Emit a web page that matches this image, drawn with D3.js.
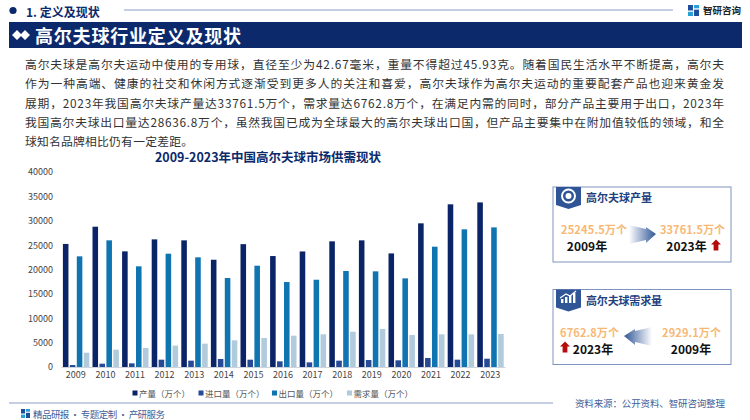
<!DOCTYPE html>
<html><head><meta charset="utf-8">
<script src="https://cdn.jsdelivr.net/npm/d3@7"></script>
<style>html,body{margin:0;padding:0;background:#fff}svg{display:block}text{font-family:"Noto Sans CJK SC","Noto Sans",sans-serif}</style>
</head><body><svg id="c" width="750" height="420"></svg>
<script>
const years=["2009","2010","2011","2012","2013","2014","2015","2016","2017","2018","2019","2020","2021","2022","2023"];
const production=[25245.5,28780,23720,26180,25980,22000,25200,22760,23700,25780,25980,23300,29470,33370,33761.5];
const imports=[400,680,750,1500,1300,1640,1500,1160,950,1300,1430,1370,1850,1500,1700];
const exportsQ=[22700,25980,20650,23240,22500,18250,20780,17430,17900,19690,19620,18180,24680,28240,28636.8];
const demand=[2929.1,3550,3900,4380,4790,5470,5950,6430,6700,7240,7800,6570,6700,6700,6762.8];
const seriesNames=["产量（万个）","进口量（万个）","出口量（万个）","需求量（万个）"];
const seriesColors=["#0b2468","#264a96","#0f74b0","#b1cadc"];
const yTicks=[0,5000,10000,15000,20000,25000,30000,35000,40000];
const bodyLines=[
"高尔夫球是高尔夫运动中使用的专用球，直径至少为42.67毫米，重量不得超过45.93克。随着国民生活水平不断提高，高尔夫",
"作为一种高端、健康的社交和休闲方式逐渐受到更多人的关注和喜爱，高尔夫球作为高尔夫运动的重要配套产品也迎来黄金发",
"展期，2023年我国高尔夫球产量达33761.5万个，需求量达6762.8万个，在满足内需的同时，部分产品主要用于出口，2023年",
"我国高尔夫球出口量达28636.8万个，虽然我国已成为全球最大的高尔夫球出口国，但产品主要集中在附加值较低的领域，和全",
"球知名品牌相比仍有一定差距。"];
const navy="#0c2a6b";
const svg=d3.select("#c");
const defs=svg.append("defs");
const g1=defs.append("linearGradient").attr("id","gr").attr("x1",0).attr("x2",1).attr("y1",0).attr("y2",0);
g1.append("stop").attr("offset",0).attr("stop-color","#fff");
g1.append("stop").attr("offset",1).attr("stop-color","#2f5597");
const g2=defs.append("linearGradient").attr("id","gl").attr("x1",1).attr("x2",0).attr("y1",0).attr("y2",0);
g2.append("stop").attr("offset",0).attr("stop-color","#fff");
g2.append("stop").attr("offset",1).attr("stop-color","#2f5597");

function txt(x,y,s,o={}){const t=svg.append("text").attr("x",x).attr("y",y).text(s)
 .attr("font-size",o.size||11).attr("fill",o.fill||"#333").attr("font-weight",o.weight||400)
 .attr("text-anchor",o.anchor||"start").attr("dominant-baseline","central");
 if(o.len)t.attr("textLength",o.len).attr("lengthAdjust","spacing");return t;}

// header
svg.append("circle").attr("cx",13).attr("cy",10.5).attr("r",3.6).attr("fill",navy);
txt(26,11,"1. 定义及现状",{size:12,weight:700,fill:navy});
svg.append("line").attr("x1",124).attr("x2",673).attr("y1",10).attr("y2",10).attr("stroke","#8a9cc6").attr("stroke-width",1);
function logo(x,y,s){
 svg.append("path").attr("d",`M${x} ${y}h${s*.45}v${s*.5}h${-s*.45}z`).attr("fill","#1c4e9c");
 svg.append("path").attr("d",`M${x+s*.55} ${y}h${s*.45}v${s*.3}h${-s*.45}z`).attr("fill","#27a0d8");
 svg.append("path").attr("d",`M${x} ${y+s*.62}h${s*.45}v${s*.38}h${-s*.45}z`).attr("fill","#27a0d8");
 svg.append("path").attr("d",`M${x+s*.55} ${y+s*.42}h${s*.45}v${s*.58}h${-s*.45}z`).attr("fill","#1c4e9c");
}
logo(688,5,11);
txt(703,10,"智研咨询",{size:9.5,weight:700,fill:"#222",len:38});
svg.append("rect").attr("x",9).attr("y",22).attr("width",733).attr("height",26).attr("fill",navy);
svg.append("path").attr("d","M12 35l5-5 5 5-5 5zM20 35l5-5 5 5-5 5z").attr("fill","#fff");
txt(35,35,"高尔夫球行业定义及现状",{size:18,weight:700,fill:"#fff",len:206});

// body
const bodyY=[63.5,82.5,102,121,140.5];
const bodyLen=[699,699,699,699,168];
bodyLines.forEach((s,i)=>txt(25,bodyY[i],s,{size:11.8,fill:"#333",len:bodyLen[i]}));

// chart
txt(268,156,"2009-2023年中国高尔夫球市场供需现状",{size:12.5,weight:700,fill:navy,anchor:"middle"});
const x0=d3.scaleBand().domain(years).range([61,505]);
const x1=d3.scaleBand().domain(seriesNames).range([1.9,28.3]).paddingInner(0.2);
const y=d3.scaleLinear().domain([0,40000]).range([367,172]);
const seriesData=[production,imports,exportsQ,demand];
seriesData.forEach((vals,k)=>{
 svg.append("g").selectAll("rect").data(vals).join("rect")
  .attr("x",(d,i)=>x0(years[i])+x1(seriesNames[k]))
  .attr("y",d=>y(d)).attr("width",x1.bandwidth()).attr("height",d=>y(0)-y(d)).attr("fill",seriesColors[k]);
});
const ax=svg.append("g").attr("transform","translate(0,367)").call(d3.axisBottom(x0).tickSize(0).tickPadding(5));
ax.select(".domain").attr("stroke","#ccd3dc");
ax.selectAll("text").attr("font-size",9).attr("fill","#444").attr("font-family","'Noto Sans','Liberation Sans',sans-serif");
const ay=svg.append("g").attr("transform","translate(53,0)").call(d3.axisLeft(y).tickValues(yTicks).tickFormat(d3.format("d")).tickSize(0).tickPadding(0));
ay.select(".domain").remove();
ay.selectAll("text").attr("font-size",9).attr("fill","#444").attr("font-family","'Noto Sans','Liberation Sans',sans-serif");

// legend
const lx=[132.5,198.5,272,347];
seriesNames.forEach((n,i)=>{
 svg.append("rect").attr("x",lx[i]).attr("y",390.5).attr("width",5).attr("height",5).attr("fill",seriesColors[i]);
 txt(lx[i]+6.5,393,n,{size:8.5,fill:"#555"});
});

// panels
function badge(x,y){svg.append("path").attr("d",`M${x} ${y}h25v18l-12.5 4l-12.5 -4z`).attr("fill","#2f5597");}
function panel(py,title,tw){
 svg.append("rect").attr("x",553).attr("y",py).attr("width",178).attr("height",75).attr("fill","#fff").attr("stroke","#7f93bf").attr("stroke-width",1);
 badge(556,py);
 txt(586,py+10,title,{size:11,weight:700,fill:"#1f3f7f",len:tw});
}
function upArrow(cx,cy){svg.append("path").attr("d",`M${cx} ${cy-6}l5 5h-2.6v6h-4.8v-6h-2.6z`).attr("fill","#b50d0d");}
const orange="#f8b874";
panel(187,"高尔夫球产量",66);
svg.append("circle").attr("cx",568.5).attr("cy",196).attr("r",6.5).attr("fill","none").attr("stroke","#fff").attr("stroke-width",2);
svg.append("circle").attr("cx",568.5).attr("cy",196).attr("r",3).attr("fill","#fff");
txt(561,229,"25245.5万个",{size:11,weight:700,fill:orange,len:66});
txt(587,245.5,"2009年",{size:12,weight:700,fill:"#111",anchor:"middle"});
txt(660,229,"33761.5万个",{size:11,weight:700,fill:orange,len:65});
txt(686.5,245.5,"2023年",{size:12,weight:700,fill:"#111",anchor:"middle"});
upArrow(716,245.5);
svg.append("path").attr("d","M629 225L646 229V227L656 234L646 243V240L629 244Z").attr("fill","url(#gr)");

panel(289.5,"高尔夫球需求量",76);
[[561,4],[565,6],[569,8],[573,10]].forEach(([bx,h])=>svg.append("rect").attr("x",bx).attr("y",303-h).attr("width",2.4).attr("height",h).attr("fill","#fff"));
svg.append("path").attr("d","M560 298L566 294L570 296L576 291").attr("fill","none").attr("stroke","#fff").attr("stroke-width",1.2);
txt(560,331.5,"6762.8万个",{size:11,weight:700,fill:orange,len:59});
txt(593,348,"2023年",{size:12,weight:700,fill:"#111",anchor:"middle"});
txt(662,331.5,"2929.1万个",{size:11,weight:700,fill:orange,len:59});
txt(691,348,"2009年",{size:12,weight:700,fill:"#111",anchor:"middle"});
upArrow(565,347.5);
svg.append("path").attr("d","M652 327L635 331V329L624 336L635 345V342L652 346Z").attr("fill","url(#gl)");

// footer
svg.append("line").attr("x1",9).attr("x2",553).attr("y1",403).attr("y2",403).attr("stroke","#8a9cc6").attr("stroke-width",1);
logo(21,409,9);
txt(33,414,"精品研报 · 专题定制 · 产研服务",{size:9.5,fill:"#3f5f9a",len:132});
txt(575,402.5,"资料来源：公开资料、智研咨询整理",{size:9.5,fill:"#3f5f9a",len:150});
</script></body></html>
